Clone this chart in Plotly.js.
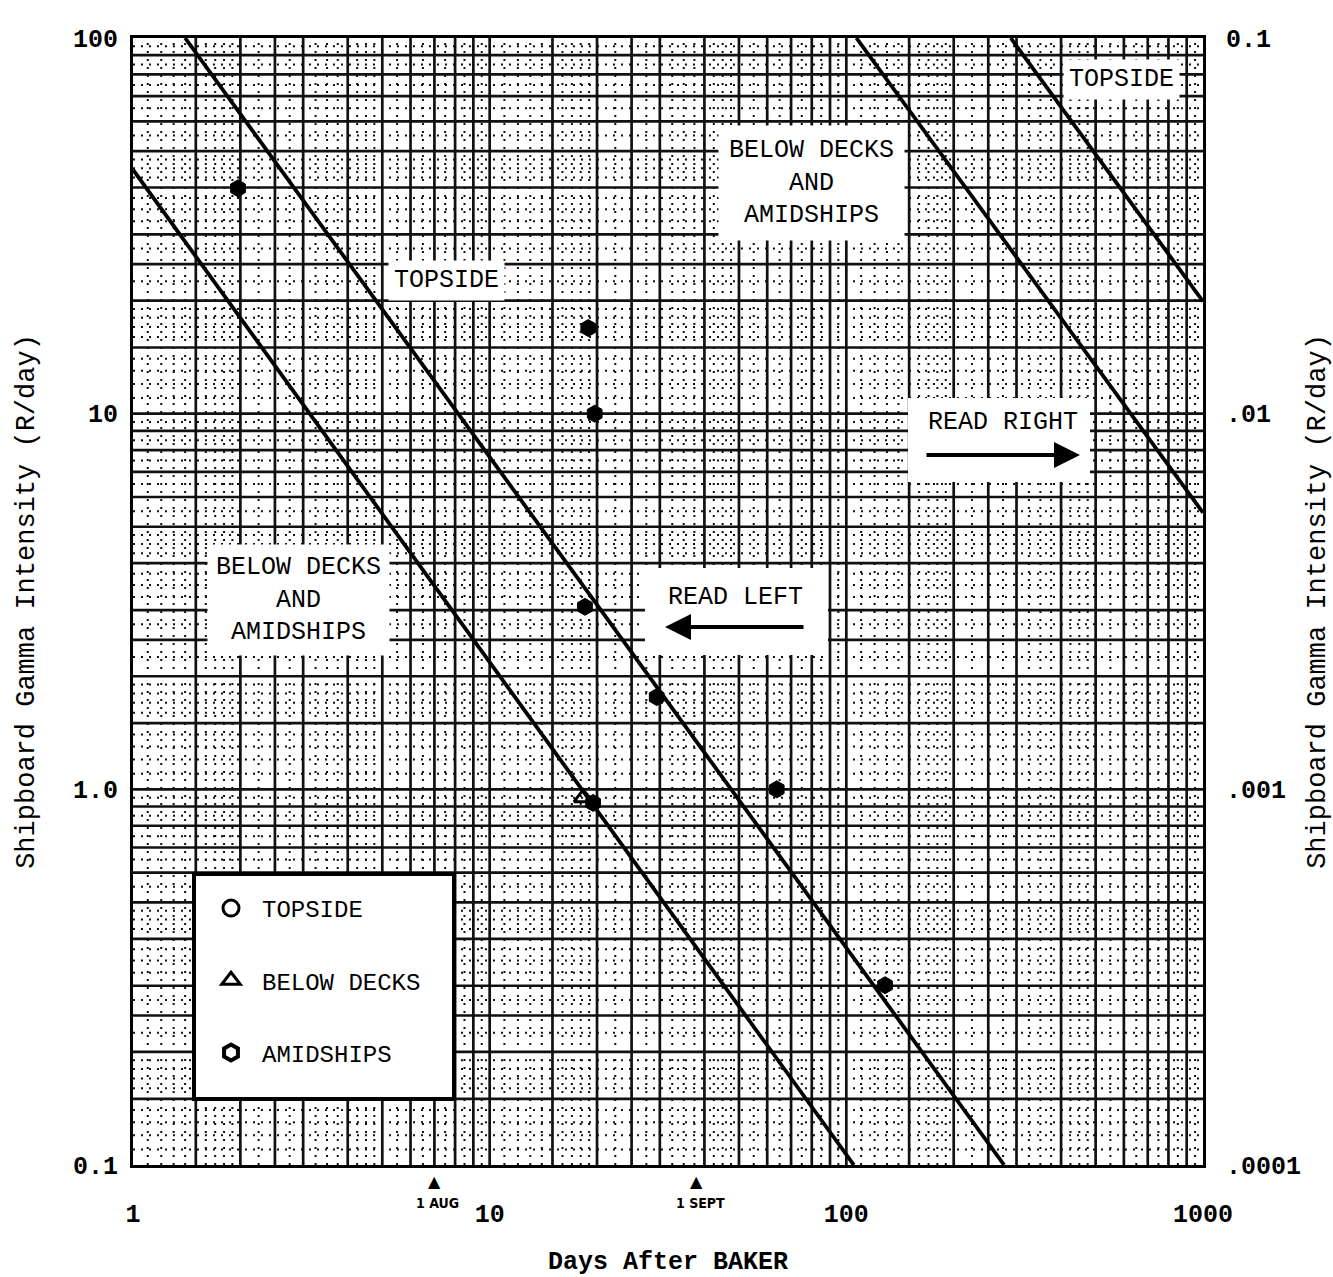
<!DOCTYPE html>
<html><head><meta charset="utf-8">
<script src="https://cdn.plot.ly/plotly-3.0.1.min.js"></script>
<style>html,body{margin:0;padding:0;background:#fff}</style>
</head><body><div id="chart" style="width:1333px;height:1277px"></div>
<script>
// ---------- data ----------
const amidshipsDays = [1.97, 18.9, 19.7, 18.5, 29.4, 19.5, 63.8, 128.4];
const amidshipsRate = [39.8, 16.9, 10.0, 3.06, 1.76, 0.92, 1.0, 0.301];
const belowDecksDays = [18.3];
const belowDecksRate = [0.95];

const belowLeftDays = [1, 105];
const belowLeftRate = [44.6, 0.1];
const topLeftDays = [1.4, 277];
const topLeftRate = [100, 0.1];
const belowRightDays = [106.7, 1000];
const belowRightRate = [0.1, 0.00545];
const topRightDays = [289, 1000];
const topRightRate = [0.1, 0.0199];

const xTickVals = [1, 10, 100, 1000];
const xTickText = ['1', '10', '100', '1000'];
const yLeftTickVals = [0.1, 1, 10, 100];
const yLeftTickText = ['0.1', '1.0', '10', '100'];
const yRightTickVals = [0.0001, 0.001, 0.01, 0.1];
const yRightTickText = ['.0001', '.001', '.01', '0.1'];

const dateDays = [7, 38];
const dateLabels = ['1 AUG', '1 SEPT'];

const legendNames = ['TOPSIDE', 'BELOW DECKS', 'AMIDSHIPS'];

// ---------- graph-paper grid ----------
const FONT = 'Liberation Mono, Courier New, monospace';
const heavyM = [1, 1.5, 2, 2.5, 3, 4, 5, 6, 7, 8, 9];
const fineM = [1.1, 1.2, 1.3, 1.4, 1.6, 1.7, 1.8, 1.9,
  2.25, 2.75, 3.25, 3.5, 3.75, 4.25, 4.5, 4.75,
  5.5, 6.5, 7.5, 8.5, 9.5];
function gridVals(ms, d0, d1, lo, hi) {
  const out = [];
  for (let d = d0; d <= d1; d++) ms.forEach(m => {
    const v = +(m * Math.pow(10, d)).toPrecision(6);
    if (v > lo * 1.0001 && v < hi * 0.9999) out.push(v);
  });
  return out;
}
function vLines(vals) { const x = [], y = []; vals.forEach(v => { x.push(v, v, null); y.push(0.1, 100, null); }); return {x, y}; }
function hLines(vals) { const x = [], y = []; vals.forEach(v => { x.push(1, 1000, null); y.push(v, v, null); }); return {x, y}; }

const gvH = vLines(gridVals(heavyM, 0, 2, 1, 1000));
const gvF = vLines(gridVals(fineM, 0, 2, 1, 1000));
const ghH = hLines(gridVals(heavyM, -1, 1, 0.1, 100));
const ghF = hLines(gridVals(fineM, -1, 1, 0.1, 100));

const gridTrace = (g, w, dash) => ({
  x: g.x, y: g.y, mode: 'lines', type: 'scatter', showlegend: false, hoverinfo: 'skip',
  line: {color: '#111', width: w, dash: dash}
});

const traces = [
  gridTrace(gvF, 2, '2px,6px'),
  gridTrace(ghF, 2, '2px,6px'),
  gridTrace(gvH, 2.7, 'solid'),
  gridTrace(ghH, 2.7, 'solid'),
  {x: belowLeftDays, y: belowLeftRate, mode: 'lines', showlegend: false, line: {color: '#000', width: 3.8}},
  {x: topLeftDays, y: topLeftRate, mode: 'lines', showlegend: false, line: {color: '#000', width: 3.8}},
  {x: belowRightDays, y: belowRightRate, yaxis: 'y2', mode: 'lines', showlegend: false, line: {color: '#000', width: 3.8}},
  {x: topRightDays, y: topRightRate, yaxis: 'y2', mode: 'lines', showlegend: false, line: {color: '#000', width: 3.8}},
  // legend entries
  {x: [null], y: [null], mode: 'markers', name: legendNames[0], legendgroup: 'a', legendrank: 1,
   marker: {symbol: 'circle-open', size: 16, color: '#000', line: {width: 3, color: '#000'}}},
  {x: belowDecksDays, y: belowDecksRate, mode: 'markers', name: legendNames[1], legendgroup: 'b', legendrank: 2,
   marker: {symbol: 'triangle-up-open', size: 16, color: '#000', line: {width: 3, color: '#000'}}},
  {x: [null], y: [null], mode: 'markers', name: legendNames[2], legendgroup: 'c', legendrank: 3,
   marker: {symbol: 'hexagon-open', size: 16, color: '#000', line: {width: 4, color: '#000'}}},
  {x: amidshipsDays, y: amidshipsRate, mode: 'markers', showlegend: false, legendgroup: 'c',
   marker: {symbol: 'hexagon', size: 17, color: '#000', line: {width: 1, color: '#000'}}}
];

// ---------- labels ----------
const px = p => (p - 133) / 1070;
const py = p => 1 - (p - 38) / 1127;
const lab = (text, x, y, pad) => ({
  text: text, xref: 'paper', yref: 'paper', x: px(x), y: py(y), xanchor: 'center', yanchor: 'middle',
  showarrow: false, bgcolor: '#fff', borderpad: pad, font: {family: FONT, size: 25, color: '#000'}
});
const annotations = [
  lab('TOPSIDE', 1121, 80, 5),
  lab('BELOW DECKS<br>AND<br>AMIDSHIPS', 811, 183, 10),
  lab('TOPSIDE', 446, 280, 5),
  lab('BELOW DECKS<br>AND<br>AMIDSHIPS', 298, 600, 8),
  {text: 'READ RIGHT', xref: 'paper', yref: 'paper', x: px(1003), y: py(422), xanchor: 'center', yanchor: 'middle',
   showarrow: false, font: {family: FONT, size: 25, color: '#000'}},
  {text: 'READ LEFT', xref: 'paper', yref: 'paper', x: px(735), y: py(597), xanchor: 'center', yanchor: 'middle',
   showarrow: false, font: {family: FONT, size: 25, color: '#000'}},
  {text: '', xref: 'paper', yref: 'paper', x: px(1080), y: py(455), ax: -155, ay: 0,
   showarrow: true, arrowhead: 2, arrowsize: 1.3, arrowwidth: 4, arrowcolor: '#000', standoff: 0},
  {text: '', xref: 'paper', yref: 'paper', x: px(665), y: py(627), ax: 140, ay: 0,
   showarrow: true, arrowhead: 2, arrowsize: 1.3, arrowwidth: 4, arrowcolor: '#000', standoff: 0}
];
dateDays.forEach((d, i) => {
  annotations.push({text: '▲', xref: 'x', yref: 'paper', x: Math.log10(d), y: py(1181),
    xanchor: 'center', yanchor: 'middle', showarrow: false,
    font: {family: 'DejaVu Sans', size: 16, color: '#000'}});
  annotations.push({text: '<b>' + dateLabels[i] + '</b>', xref: 'x', yref: 'paper', x: Math.log10(d) + 0.01, y: py(1203),
    xanchor: 'center', yanchor: 'middle', showarrow: false,
    font: {family: 'DejaVu Sans Condensed', size: 14, color: '#000'}});
});

const rect = (x0, y0, x1, y1, lw) => ({
  type: 'rect', xref: 'paper', yref: 'paper', x0: px(x0), x1: px(x1), y0: py(y1), y1: py(y0),
  fillcolor: '#fff', line: {color: '#000', width: lw}, layer: 'above'
});
const shapes = [
  rect(908, 398, 1090, 482, 0),
  rect(645, 568, 828, 655, 0),
  rect(194, 874, 454, 1099, 4)
];

const axisCommon = {
  type: 'log', showgrid: false, zeroline: false, showline: true, linecolor: '#000', linewidth: 3,
  tickfont: {family: FONT, size: 25, color: '#000', weight: 'bold'}, ticks: 'outside', tickcolor: 'rgba(0,0,0,0)'
};

const layout = {
  width: 1333, height: 1277,
  margin: {l: 133, r: 130, t: 38, b: 112},
  paper_bgcolor: '#fff', plot_bgcolor: '#fff',
  font: {family: FONT, color: '#000'},
  hovermode: false,
  showlegend: true,
  legend: {x: px(200), xanchor: 'left', y: py(886), yanchor: 'top', bgcolor: 'rgba(0,0,0,0)', borderwidth: 0,
    font: {family: FONT, size: 24, color: '#000'}, tracegroupgap: 38, traceorder: 'grouped', itemwidth: 52},
  xaxis: Object.assign({}, axisCommon, {
    range: [0, 3], tickvals: xTickVals, ticktext: xTickText, ticklen: 24, mirror: true,
    title: {text: 'Days After BAKER', font: {family: FONT, size: 25, color: '#000', weight: 'bold'}, standoff: 30}
  }),
  yaxis: Object.assign({}, axisCommon, {
    range: [-1, 2], tickvals: yLeftTickVals, ticktext: yLeftTickText, ticklen: 7,
    title: {text: 'Shipboard Gamma Intensity (R/day)', font: {family: FONT, size: 27, color: '#000'}, standoff: 31}
  }),
  yaxis2: Object.assign({}, axisCommon, {
    range: [-4, -1], overlaying: 'y', side: 'right', anchor: 'x',
    tickvals: yRightTickVals, ticktext: yRightTickText, ticklen: 15,
    title: {text: 'Shipboard Gamma Intensity (R/day)', font: {family: FONT, size: 27, color: '#000'}, standoff: 18}
  }),
  annotations: annotations,
  shapes: shapes
};

Plotly.newPlot('chart', traces, layout, {staticPlot: true, displayModeBar: false});
</script></body></html>
